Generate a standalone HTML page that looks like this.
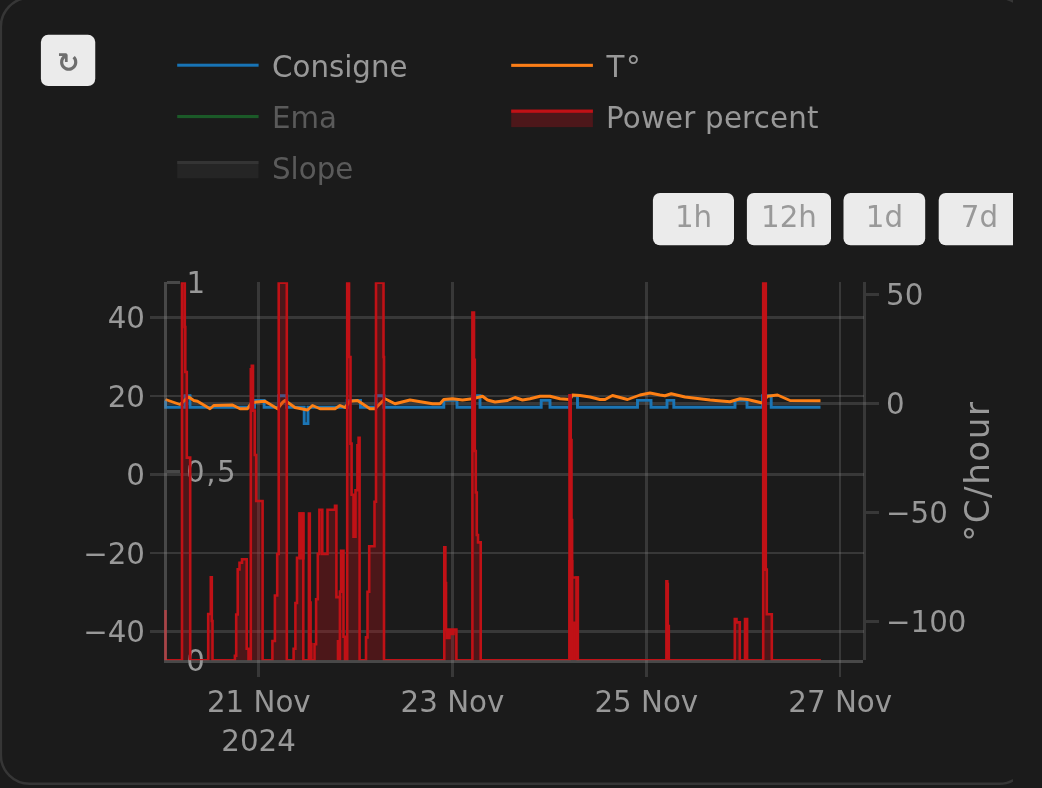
<!DOCTYPE html>
<html lang="fr"><head><meta charset="utf-8"><title>Plotly graph card</title>
<style>
html,body{margin:0;padding:0;background:#1b1b1b;}
body{width:1042px;height:788px;overflow:hidden;}
svg{display:block;will-change:transform;}
text{font-family:"DejaVu Sans","Liberation Sans",sans-serif;font-size:29.3px;fill:#989898;}
.dim{fill:#5a5a5a;}
.btn{fill:#999999;}
</style></head><body>
<svg width="1042" height="788" viewBox="0 0 1042 788">
<defs>
<clipPath id="cardclip"><rect x="0" y="0" width="1013" height="788"/></clipPath>
<clipPath id="plotclip"><rect x="164" y="282.3" width="702" height="377.95"/></clipPath>
</defs>
<g clip-path="url(#cardclip)">
<rect x="0.85" y="-2.1" width="1027.15" height="785.85" rx="28.75" ry="28.75" fill="#1b1b1b" stroke="#363636" stroke-width="2.5"/>

<rect x="40.9" y="34.75" width="54.35" height="51.35" rx="7.3" fill="#ebebeb"/>
<text x="68.2" y="72.0" text-anchor="middle" style="font-size:27px;font-weight:bold;fill:#6e6e6e">↻</text>
<rect x="177.2" y="63.7" width="81.4" height="3" fill="#1874b6"/>
<text x="272" y="76.6">Consigne</text>
<rect x="177.2" y="115" width="81.4" height="3.1" fill="#1b5a28"/>
<text class="dim" x="272" y="127.9">Ema</text>
<rect x="177.2" y="161" width="81.3" height="17.3" fill="#252525"/>
<rect x="177.2" y="161" width="81.3" height="3" fill="#343434"/>
<text class="dim" x="272" y="178.9">Slope</text>
<rect x="511.2" y="63.8" width="81.7" height="3.1" fill="#fb7e18"/>
<text x="606.5" y="76.6" style="letter-spacing:1.5px">T°</text>
<rect x="511.2" y="109.6" width="81.7" height="17.5" fill="#4d171a"/>
<rect x="511.2" y="109.6" width="81.7" height="3.2" fill="#c01116"/>
<text x="606" y="127.5" style="letter-spacing:0.2px">Power percent</text>
<rect x="652.9" y="192.9" width="81.1" height="52.4" rx="7" fill="#ebebeb"/>
<text class="btn" x="693.5" y="227" text-anchor="middle">1h</text>
<rect x="746.9" y="192.9" width="84.1" height="52.4" rx="7" fill="#ebebeb"/>
<text class="btn" x="789.0" y="227" text-anchor="middle">12h</text>
<rect x="843.5" y="192.9" width="81.7" height="52.4" rx="7" fill="#ebebeb"/>
<text class="btn" x="884.4" y="227" text-anchor="middle">1d</text>
<rect x="938.7" y="192.9" width="81.3" height="52.4" rx="7" fill="#ebebeb"/>
<text class="btn" x="979.4" y="227" text-anchor="middle">7d</text>
<rect x="150" y="316" width="714.00" height="3.00" fill="rgba(140,140,140,0.26)" />
<rect x="150" y="395" width="714.00" height="2.00" fill="rgba(140,140,140,0.26)" />
<rect x="150" y="473" width="714.00" height="3.00" fill="rgba(140,140,140,0.26)" />
<rect x="150" y="552" width="714.00" height="2.00" fill="rgba(140,140,140,0.26)" />
<rect x="150" y="630" width="714.00" height="3.00" fill="rgba(140,140,140,0.26)" />
<rect x="257" y="282" width="3.00" height="395.00" fill="rgba(140,140,140,0.26)" />
<rect x="451" y="282" width="3.00" height="395.00" fill="rgba(140,140,140,0.26)" />
<rect x="645" y="282" width="3.00" height="395.00" fill="rgba(140,140,140,0.26)" />
<rect x="839" y="282" width="2.00" height="395.00" fill="rgba(140,140,140,0.26)" />
<rect x="167" y="402" width="712.00" height="3.00" fill="rgba(140,140,140,0.26)" />
<rect x="866" y="293" width="13.00" height="3.00" fill="rgba(140,140,140,0.26)" />
<rect x="866" y="511" width="13.00" height="3.00" fill="rgba(140,140,140,0.26)" />
<rect x="866" y="620" width="13.00" height="3.00" fill="rgba(140,140,140,0.26)" />
<rect x="863" y="282" width="3.00" height="378.00" fill="rgba(140,140,140,0.26)" />
<rect x="167" y="281" width="13.00" height="3.00" fill="rgba(140,140,140,0.40)" />
<rect x="167" y="470" width="13.00" height="3.00" fill="rgba(140,140,140,0.40)" />
<text x="186.5" y="292.8">1</text>
<text x="186" y="482.2" style="letter-spacing:1.5px">0,5</text>
<text x="186.3" y="670.9">0</text>
<g clip-path="url(#plotclip)" fill="none" stroke-linejoin="miter">
<path d="M165.50,400.40L165.60,400.40L165.60,407.30L185.00,407.30L185.00,395.70L190.00,395.70L190.00,407.30L254.60,407.30L254.60,400.40L264.10,400.40L264.10,407.30L278.70,407.30L278.70,395.70L286.80,395.70L286.80,407.30L304.20,407.30L304.20,423.60L308.00,423.60L308.00,407.30L347.20,407.30L347.20,400.40L360.50,400.40L360.50,407.30L376.00,407.30L376.00,395.70L384.00,395.70L384.00,407.30L443.80,407.30L443.80,400.40L457.00,400.40L457.00,407.30L472.50,407.30L472.50,395.70L480.00,395.70L480.00,407.30L541.20,407.30L541.20,400.40L550.00,400.40L550.00,407.30L570.00,407.30L570.00,395.70L577.50,395.70L577.50,407.30L637.50,407.30L637.50,400.40L651.00,400.40L651.00,407.30L667.00,407.30L667.00,400.40L673.80,400.40L673.80,407.30L735.00,407.30L735.00,400.40L747.00,400.40L747.00,407.30L762.50,407.30L762.50,395.70L771.20,395.70L771.20,407.30L820.50,407.30" stroke="#1b75b5" stroke-width="2.9"/>
<path d="M165.50,399.50L180.00,404.50L185.00,400.00L188.75,397.00L193.75,400.50L197.50,401.25L210.00,408.75L213.75,405.50L232.50,405.00L240.00,408.75L247.50,408.75L251.25,403.00L256.25,402.00L265.00,401.25L277.50,408.75L282.50,402.50L285.00,400.50L295.00,407.50L307.50,410.00L312.50,405.50L320.00,408.75L335.00,408.75L340.00,405.50L345.00,407.50L350.00,401.25L357.50,400.50L370.00,408.75L375.00,408.75L385.00,398.75L395.00,403.75L400.00,402.50L410.00,400.00L417.50,401.25L432.50,403.75L440.00,403.75L443.75,399.50L452.50,398.75L462.50,400.00L472.50,398.75L482.50,396.25L487.50,400.00L495.00,402.00L507.50,400.50L515.00,397.50L522.50,400.00L530.00,398.75L540.00,396.25L550.00,396.25L560.00,398.75L570.00,399.50L572.50,395.00L580.00,395.50L590.00,397.00L600.00,399.50L605.00,399.50L612.50,395.50L620.00,397.50L627.50,399.50L640.00,395.00L650.00,393.00L660.00,395.00L665.00,395.75L671.25,393.75L685.00,397.00L710.00,400.00L730.00,401.75L740.00,398.75L747.50,399.50L762.50,403.00L767.50,396.25L777.50,395.00L790.00,400.50L820.50,400.75" stroke="#fd7f14" stroke-width="2.9" stroke-linejoin="round"/>
<path d="M165.50,610.00L165.50,660.25L182.00,660.25L182.00,282.70L184.80,282.70L184.80,327.00L185.30,327.00L185.30,372.00L186.80,372.00L186.80,457.60L190.20,457.60L190.20,660.25L208.20,660.25L208.20,614.00L210.80,614.00L210.80,577.30L211.80,577.30L211.80,621.00L212.50,621.00L212.50,660.25L234.90,660.25L234.90,655.80L236.20,655.80L236.20,614.50L237.70,614.50L237.70,569.40L239.50,569.40L239.50,562.80L242.00,562.80L242.00,559.30L246.70,559.30L246.70,648.80L248.50,648.80L248.50,660.25L250.80,660.25L250.80,369.30L251.80,369.30L251.80,365.70L253.00,365.70L253.00,410.60L254.80,410.60L254.80,455.00L256.20,455.00L256.20,501.00L262.60,501.00L262.60,660.25L272.40,660.25L272.40,641.00L274.90,641.00L274.90,595.50L277.20,595.50L277.20,554.00L278.70,554.00L278.70,282.70L286.80,282.70L286.80,660.25L293.60,660.25L293.60,648.80L295.40,648.80L295.40,603.00L297.00,603.00L297.00,557.70L299.60,557.70L299.60,513.50L303.30,513.50L303.30,660.25L308.90,660.25L308.90,513.50L309.80,513.50L309.80,602.50L310.60,602.50L310.60,644.00L311.40,644.00L311.40,660.25L314.50,660.25L314.50,644.30L316.10,644.30L316.10,599.30L317.80,599.30L317.80,553.90L319.40,553.90L319.40,509.80L322.30,509.80L322.30,553.90L327.50,553.90L327.50,509.80L335.00,509.80L335.00,505.90L336.40,505.90L336.40,597.10L339.90,597.10L339.90,591.60L341.10,591.60L341.10,550.80L343.50,550.80L343.50,636.80L345.00,636.80L345.00,660.25L347.20,660.25L347.20,282.70L349.00,282.70L349.00,357.00L350.50,357.00L350.50,443.60L351.60,443.60L351.60,494.80L353.50,494.80L353.50,536.70L355.50,536.70L355.50,490.30L357.40,490.30L357.40,445.30L358.60,445.30L358.60,437.90L359.60,437.90L359.60,660.25L366.00,660.25L366.00,637.40L367.50,637.40L367.50,591.70L369.20,591.70L369.20,546.30L374.50,546.30L374.50,501.80L376.00,501.80L376.00,282.70L383.50,282.70L383.50,357.00L384.00,357.00L384.00,660.25L444.30,660.25L444.30,547.30L445.40,547.30L445.40,583.00L446.00,583.00L446.00,629.50L447.00,629.50L447.00,638.00L449.50,638.00L449.50,629.50L452.00,629.50L452.00,634.00L453.50,634.00L453.50,629.50L456.40,629.50L456.40,660.25L472.40,660.25L472.40,312.50L474.00,312.50L474.00,359.80L474.80,359.80L474.80,451.00L475.80,451.00L475.80,492.50L476.80,492.50L476.80,535.00L478.00,535.00L478.00,542.40L480.70,542.40L480.70,660.25L569.50,660.25L569.50,395.30L570.70,395.30L570.70,440.00L571.50,440.00L571.50,520.00L572.10,520.00L572.10,577.50L577.80,577.50L577.80,660.25L666.40,660.25L666.40,581.30L667.30,581.30L667.30,584.00L667.80,584.00L667.80,626.00L668.80,626.00L668.80,660.25L734.80,660.25L734.80,619.10L736.50,619.10L736.50,622.40L739.80,622.40L739.80,660.25L745.00,660.25L745.00,619.10L747.10,619.10L747.10,660.25L763.20,660.25L763.20,282.70L765.80,282.70L765.80,569.60L766.80,569.60L766.80,614.30L771.80,614.30L771.80,660.25L820.90,660.25L820.90,660.25L165.50,660.25Z" fill="#c01116" fill-opacity="0.3" stroke="none"/>
<path d="M165.50,610.00L165.50,660.25L182.00,660.25L182.00,282.70L184.80,282.70L184.80,327.00L185.30,327.00L185.30,372.00L186.80,372.00L186.80,457.60L190.20,457.60L190.20,660.25L208.20,660.25L208.20,614.00L210.80,614.00L210.80,577.30L211.80,577.30L211.80,621.00L212.50,621.00L212.50,660.25L234.90,660.25L234.90,655.80L236.20,655.80L236.20,614.50L237.70,614.50L237.70,569.40L239.50,569.40L239.50,562.80L242.00,562.80L242.00,559.30L246.70,559.30L246.70,648.80L248.50,648.80L248.50,660.25L250.80,660.25L250.80,369.30L251.80,369.30L251.80,365.70L253.00,365.70L253.00,410.60L254.80,410.60L254.80,455.00L256.20,455.00L256.20,501.00L262.60,501.00L262.60,660.25L272.40,660.25L272.40,641.00L274.90,641.00L274.90,595.50L277.20,595.50L277.20,554.00L278.70,554.00L278.70,282.70L286.80,282.70L286.80,660.25L293.60,660.25L293.60,648.80L295.40,648.80L295.40,603.00L297.00,603.00L297.00,557.70L299.60,557.70L299.60,513.50L303.30,513.50L303.30,660.25L308.90,660.25L308.90,513.50L309.80,513.50L309.80,602.50L310.60,602.50L310.60,644.00L311.40,644.00L311.40,660.25L314.50,660.25L314.50,644.30L316.10,644.30L316.10,599.30L317.80,599.30L317.80,553.90L319.40,553.90L319.40,509.80L322.30,509.80L322.30,553.90L327.50,553.90L327.50,509.80L335.00,509.80L335.00,505.90L336.40,505.90L336.40,597.10L339.90,597.10L339.90,591.60L341.10,591.60L341.10,550.80L343.50,550.80L343.50,636.80L345.00,636.80L345.00,660.25L347.20,660.25L347.20,282.70L349.00,282.70L349.00,357.00L350.50,357.00L350.50,443.60L351.60,443.60L351.60,494.80L353.50,494.80L353.50,536.70L355.50,536.70L355.50,490.30L357.40,490.30L357.40,445.30L358.60,445.30L358.60,437.90L359.60,437.90L359.60,660.25L366.00,660.25L366.00,637.40L367.50,637.40L367.50,591.70L369.20,591.70L369.20,546.30L374.50,546.30L374.50,501.80L376.00,501.80L376.00,282.70L383.50,282.70L383.50,357.00L384.00,357.00L384.00,660.25L444.30,660.25L444.30,547.30L445.40,547.30L445.40,583.00L446.00,583.00L446.00,629.50L447.00,629.50L447.00,638.00L449.50,638.00L449.50,629.50L452.00,629.50L452.00,634.00L453.50,634.00L453.50,629.50L456.40,629.50L456.40,660.25L472.40,660.25L472.40,312.50L474.00,312.50L474.00,359.80L474.80,359.80L474.80,451.00L475.80,451.00L475.80,492.50L476.80,492.50L476.80,535.00L478.00,535.00L478.00,542.40L480.70,542.40L480.70,660.25L569.50,660.25L569.50,395.30L570.70,395.30L570.70,440.00L571.50,440.00L571.50,520.00L572.10,520.00L572.10,577.50L577.80,577.50L577.80,660.25L666.40,660.25L666.40,581.30L667.30,581.30L667.30,584.00L667.80,584.00L667.80,626.00L668.80,626.00L668.80,660.25L734.80,660.25L734.80,619.10L736.50,619.10L736.50,622.40L739.80,622.40L739.80,660.25L745.00,660.25L745.00,619.10L747.10,619.10L747.10,660.25L763.20,660.25L763.20,282.70L765.80,282.70L765.80,569.60L766.80,569.60L766.80,614.30L771.80,614.30L771.80,660.25L820.90,660.25" stroke="#c01116" stroke-width="2.6"/>
<rect x="572" y="621.5" width="7.00" height="38.75" fill="#c01116" />
<rect x="338.6" y="596" width="2.60" height="64.25" fill="#c01116" />
<rect x="336.7" y="640" width="4.30" height="20.25" fill="#c01116" />
<rect x="568.2" y="560" width="5.20" height="100.25" fill="#c01116" />
<rect x="575.2" y="576.3" width="3.90" height="83.95" fill="#c01116" />
<rect x="298.4" y="512.3" width="6.20" height="47.30" fill="#c01116" />
</g>
<rect x="164" y="282" width="3.00" height="381.00" fill="rgba(140,140,140,0.40)" />
<rect x="167" y="660" width="696.00" height="3.00" fill="rgba(140,140,140,0.40)" />
<text x="145" y="328.0" text-anchor="end">40</text>
<text x="145" y="406.5" text-anchor="end">20</text>
<text x="145" y="485.0" text-anchor="end">0</text>
<text x="145" y="563.5" text-anchor="end">−20</text>
<text x="145" y="642.0" text-anchor="end">−40</text>
<text x="886" y="305.3">50</text>
<text x="886" y="414.3">0</text>
<text x="886" y="523.3">−50</text>
<text x="886" y="632.3">−100</text>
<text x="258.8" y="711.5" text-anchor="middle">21 Nov</text>
<text x="452.5" y="711.5" text-anchor="middle">23 Nov</text>
<text x="646.3" y="711.5" text-anchor="middle">25 Nov</text>
<text x="840.2" y="711.5" text-anchor="middle">27 Nov</text>
<text x="258.6" y="750.9" text-anchor="middle">2024</text>
<text transform="translate(989,471.2) rotate(-90)" text-anchor="middle" style="font-size:34.2px;letter-spacing:1.5px">°C/hour</text>
</g>
</svg>
</body></html>
